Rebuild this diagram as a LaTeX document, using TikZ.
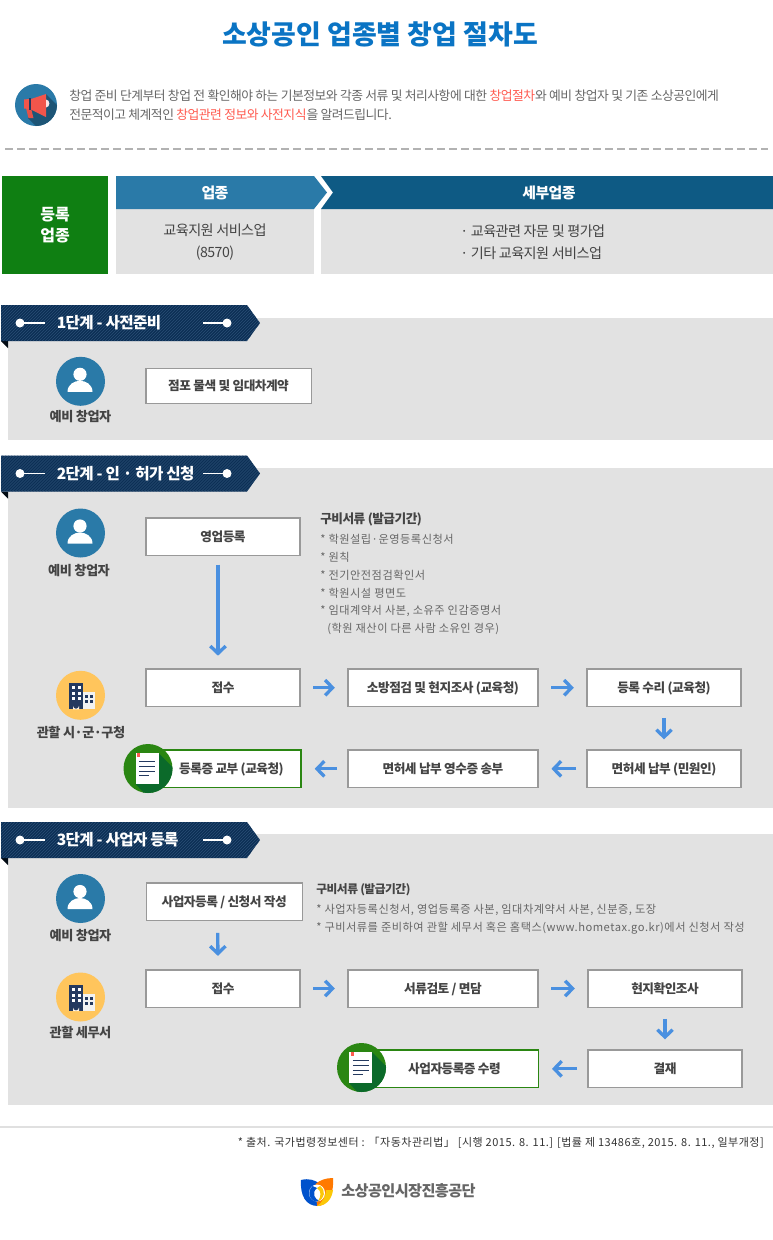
\documentclass[tikz,border=0pt]{standalone}
\usepackage{fontspec}
\setmainfont{Noto Sans CJK KR}
\newfontfamily\tightf[LetterSpace=-4]{Noto Sans CJK KR}
\newfontfamily\widef[LetterSpace=4.5]{Noto Sans CJK KR}
\usetikzlibrary{arrows.meta,calc}
\newcommand\fsz[1]{\fontsize{#1}{#1}\selectfont}
\definecolor{paneg}{HTML}{E2E2E2}
\definecolor{ttl}{HTML}{0A74C4}
\definecolor{blu}{HTML}{2A7AA8}
\definecolor{dkblu}{HTML}{0E5A84}
\definecolor{grn}{HTML}{0F7F12}
\definecolor{navy}{HTML}{0C2F55}
\definecolor{hatchc}{HTML}{2A4E75}
\definecolor{bor}{HTML}{999999}
\definecolor{txt}{HTML}{444444}
\definecolor{lite}{HTML}{666666}
\definecolor{redt}{HTML}{FF5A4F}
\definecolor{arr}{HTML}{4A90E0}
\definecolor{okg}{HTML}{2A8612}
\definecolor{okd}{HTML}{0B6A2A}
\definecolor{yel}{HTML}{FFC55C}
\definecolor{bld}{HTML}{24395F}
\tikzset{
 lbl/.style={inner sep=0pt,text depth=0.12em,text height=0.82em},
 flowbox/.style={lbl,draw=bor,line width=1pt,fill=white,text=txt,font=\tightf\bfseries\fsz{9.5},minimum height=28pt},
 boxa/.style={flowbox,minimum width=115.5pt},
 boxb/.style={flowbox,minimum width=142.5pt},
 boxgo/.style={flowbox,draw=okg,line width=1.1pt},
 actor/.style={lbl,text=txt,font=\tightf\bfseries\fsz{9.9}},
 doc/.style={lbl,anchor=west,text=lite,font=\widef\fsz{8.4}},
 dochead/.style={lbl,anchor=west,text=txt,font=\tightf\bfseries\fsz{9.5}},
 flow/.style={draw=arr,line width=2.5pt,-{Straight Barb[length=5.5pt,width=11.5pt,line width=2.5pt]}},
 gapa/.style={flow,shorten <=9.4pt,shorten >=9.4pt},
 gapb/.style={flow,shorten <=7.6pt,shorten >=9.6pt},
 gapc/.style={flow,shorten <=8.2pt,shorten >=7.6pt},
}
\newcommand\ribbon[3]{%
 \begin{scope}[shift={(0,#1)}]
  \fill[black!75!navy] (1,36)--(8,36)--(8,43)--cycle;
  \fill[navy] (1,0)--(247,0)--(260,18)--(247,36)--(1,36)--cycle;
  \begin{scope}
   \clip (1,0)--(247,0)--(260,18)--(247,36)--(1,36)--cycle;
   \foreach \i in {-36,-33,...,260} \draw[hatchc,line width=0.35pt] (\i,36)--(\i+36,0);
  \end{scope}
  \fill[white] (20,18) circle (4.5);
  \draw[white,line width=1.4pt] (20,18)--(45,18);
  \draw[white,line width=1.4pt] (203,18)--(227,18);
  \fill[white] (227,18) circle (4.5);
  \node[lbl,anchor=west,text=white,font=\tightf\bfseries\fsz{11.7}] (#2) at (56.5,19) {#3};
 \end{scope}}
\newcommand\personicon[2]{%
 \begin{scope}[shift={(#1,#2)}]
  \fill[blu] (0,0) circle (24.5);
  \fill[white] (-0.5,-7) circle (6.6);
  \fill[white] (-13,10.5) .. controls (-13,3) and (-6,-0.5) .. (-0.5,-0.5) .. controls (5,-0.5) and (12,3) .. (12,10.5) -- cycle;
 \end{scope}}
\newcommand\buildicon[2]{%
 \begin{scope}[shift={(#1,#2)}]
  \fill[yel] (0,0) circle (24.5);
  \fill[bld] (-12,-12) rectangle (2.5,14);
  \foreach \r in {-9,-3.5,2} \foreach \c in {-9,-3} \fill[white] (\c,\r) rectangle ++(3,3);
  \fill[white!85!yel] (-7.5,14) -- (-7.5,10.5) arc (180:0:3) -- (-1.5,14) -- cycle;
  \fill[white!95!black] (2.5,-3) rectangle (14.5,13.5);
  \foreach \r in {-0.5,5} \foreach \c in {4.5,9.5} \fill[bld] (\c,\r) rectangle ++(3,3);
 \end{scope}}
\newcommand\docicon[2]{%
 \begin{scope}[shift={(#1,#2)}]
  \fill[okg] (0,0) circle (24.5);
  \begin{scope}
   \clip (0,0) circle (24.5);
   \fill[okd] (10.5,-15.5) -- (32,6) -- (32,32) -- (3,32) -- (-12.5,15.5) -- cycle;
  \end{scope}
  \fill[white] (-12.5,-15.5) rectangle (10.5,15.5);
  \fill[redt] (-11,-15.5) rectangle (-8,-11.5);
  \foreach \yy in {-7.5,-2.5,2.5} \draw[bld,line width=0.7pt] (-8.7,\yy) -- (7,\yy);
  \draw[bld,line width=0.7pt] (-8.7,7.2) -- (1,7.2);
 \end{scope}}
\begin{document}
\begin{tikzpicture}[x=0.75pt,y=-0.75pt]
\useasboundingbox (0,0) rectangle (773,1240);
\fill[white] (0,0) rectangle (773,1240);
% title
\node[lbl,text=ttl,font=\bfseries\fsz{20.2}] (title) at (380,39.6) {소상공인 업종별 창업 절차도};
% megaphone
\fill[blu] (36,105) circle (21);
\begin{scope}
 \clip (36,105) circle (21);
 \fill[blu!70!black] (46,94) -- (70,118) -- (50,140) -- (28,118) -- (31,109) -- (46,117) -- cycle;
\end{scope}
\fill[redt!90!black] (26,108) -- (31,108) -- (33.5,118) -- (28.5,118) -- cycle;
\fill[redt!95!black] (24,99.5) -- (29,99) -- (29,109) -- (24,108.5) -- cycle;
\fill[redt!95!black] (31,99) -- (46,94) -- (46,117) -- (31,109.5) -- cycle;
\fill[bld] (29,98) rectangle (31,110);
\fill[white!90!red] (46,99.5) .. controls (50.5,100) and (50.5,107) .. (46,107.5) -- cycle;
% intro
\node[lbl,anchor=west,text=lite,font=\tightf\fsz{9.6}] (introa) at (69,95.5) {창업 준비 단계부터 창업 전 확인해야 하는 기본정보와 각종 서류 및 처리사항에 대한 \textcolor{redt}{창업절차}와 예비 창업자 및 기존 소상공인에게};
\node[lbl,anchor=west,text=lite,font=\tightf\fsz{9.6}] (introb) at (69,115) {전문적이고 체계적인 \textcolor{redt}{창업관련 정보와 사전지식}을 알려드립니다.};
\draw[black!30,line width=1pt,dash pattern=on 6pt off 3pt] (5,149) -- (768,149);
% registered type
\node[lbl,fill=grn,minimum width=79.5pt,minimum height=73.5pt] (regbox) at (55,225) {};
\node[lbl,text=white,font=\bfseries\fsz{12}] (rega) at (55,215.5) {등록};
\node[lbl,text=white,font=\bfseries\fsz{12}] (regb) at (55,236.5) {업종};
\fill[paneg] (116,209) rectangle (314,274);
\fill[paneg] (321,209) rectangle (773,274);
\fill[dkblu] (321,176) -- (773,176) -- (773,209) -- (321,209) -- (333,192.5) -- cycle;
\fill[blu] (116,176) -- (314,176) -- (327,192.5) -- (314,209) -- (116,209) -- cycle;
\node[lbl,text=white,font=\tightf\bfseries\fsz{11.2}] (h1) at (215,194) {업종};
\node[lbl,text=white,font=\tightf\bfseries\fsz{11.2}] (h2) at (549,194) {세부업종};
\node[lbl,text=txt,font=\tightf\fsz{10.6}] (ta) at (215,231) {교육지원 서비스업};
\node[lbl,text=txt,font=\tightf\fsz{10.6}] (tb) at (215,253) {(8570)};
\node[lbl,anchor=west,text=txt,font=\tightf\fsz{10.6}] (tc) at (460,232) {· 교육관련 자문 및 평가업};
\node[lbl,anchor=west,text=txt,font=\tightf\fsz{10.6}] (td) at (460,254) {· 기타 교육지원 서비스업};
% panels
\fill[paneg] (8,318) rectangle (773,440);
\fill[paneg] (8,468) rectangle (773,808);
\fill[paneg] (8,834) rectangle (773,1105);
% step 1
\ribbon{305}{s1}{1단계 - 사전준비}
\personicon{80.5}{381.3}
\node[actor] (a1) at (80.5,417) {예비 창업자};
\node[flowbox,minimum width=124pt,minimum height=26pt] (b11) at (228.5,386) {점포 물색 및 임대차계약};
% step 2
\ribbon{455.5}{s2}{2단계 - 인 · 허가 신청}
\personicon{80.5}{533}
\node[actor] (a2) at (79,571) {예비 창업자};
\buildicon{80.5}{695.3}
\node[actor] (a3) at (81,733) {관할 시·군·구청};
\node[boxa] (b21) at (223,536.5) {영업등록};
\node[boxa] (b22) at (223,687.7) {접수};
\node[boxb] (b23) at (443,687.7) {소방점검 및 현지조사 (교육청)};
\node[boxa] (b24) at (664,687.7) {등록 수리 (교육청)};
\node[boxa] (b25) at (664,768.8) {면허세 납부 (민원인)};
\node[boxb] (b26) at (443,768.8) {면허세 납부 영수증 송부};
\node[boxgo,minimum width=113.5pt] (b27) at (225.5,768.8) {\hspace*{9pt}등록증 교부 (교육청)};
\docicon{148}{768.5}
\draw[flow,shorten <=6.5pt,shorten >=9.5pt] ([xshift=-3.75pt]b21.south) -- ([xshift=-3.75pt]b22.north);
\draw[gapa] (b22) -- (b23);
\draw[gapa] (b23) -- (b24);
\draw[gapc] (b24) -- (b25);
\draw[gapb] (b25) -- (b26);
\draw[gapb] (b26) -- (b27);
\node[dochead] (d20) at (320,518.5) {구비서류 (발급기간)};
\node[doc] (d21) at (320,539) {* 학원설립·운영등록신청서};
\node[doc] (d22) at (320,556.8) {* 원칙};
\node[doc] (d23) at (320,574.7) {* 전기안전점검확인서};
\node[doc] (d24) at (320,592.5) {* 학원시설 평면도};
\node[doc] (d25) at (320,610.3) {* 임대계약서 사본, 소유주 인감증명서};
\node[doc] (d26) at (327,628) {(학원 재산이 다른 사람 소유인 경우)};
% step 3
\ribbon{822}{s3}{3단계 - 사업자 등록}
\personicon{80.5}{898.5}
\node[actor] (a4) at (80.5,935.5) {예비 창업자};
\buildicon{80.5}{997}
\node[actor] (a5) at (80.5,1032.5) {관할 세무서};
\node[flowbox,minimum width=117pt] (b31) at (224.2,901.5) {사업자등록 / 신청서 작성};
\node[boxa] (b32) at (223,988.5) {접수};
\node[boxb] (b33) at (443,988.5) {서류검토 / 면담};
\node[boxa] (b34) at (665,988.5) {현지확인조사};
\node[boxa] (b35) at (665,1068.8) {결재};
\node[boxgo,minimum width=126pt] (b36) at (454.5,1068.8) {사업자등록증 수령};
\docicon{361.5}{1067.5}
\draw[flow,shorten <=9pt,shorten >=10pt] ([xshift=-4.9pt]b31.south) -- ([xshift=-3.75pt]b32.north);
\draw[gapa] (b32) -- (b33);
\draw[gapa] (b33) -- (b34);
\draw[gapc] (b34) -- (b35);
\draw[gapb] (b35) -- (b36);
\node[dochead,font=\tightf\bfseries\fsz{8.8}] (d30) at (316,889) {구비서류 (발급기간)};
\node[doc] (d31) at (316,909) {* 사업자등록신청서, 영업등록증 사본, 임대차계약서 사본, 신분증, 도장};
\node[doc] (d32) at (316,927) {* 구비서류를 준비하여 관할 세무서 혹은 홈택스(www.hometax.go.kr)에서 신청서 작성};
% footer
\draw[black!12,line width=1.5pt] (0,1127) -- (773,1127);
\node[lbl,anchor=east,text=black!80,font=\widef\fsz{8.25}] (foot) at (764,1142) {* 출처. 국가법령정보센터 : 「자동차관리법」 [시행 2015. 8. 11.] [법률 제 13486호, 2015. 8. 11., 일부개정]};
% logo
\fill[blue!60!cyan!80!black] (301,1180) .. controls (309,1178) and (315,1180) .. (320,1184) -- (318,1206) .. controls (306,1206) and (300,1196) .. (301,1180) -- cycle;
\fill[orange!95!red] (333,1178) .. controls (326,1178) and (320,1180) .. (315.5,1184) -- (317,1206) .. controls (328,1206) and (334,1195) .. (333,1178) -- cycle;
\fill[yellow!60!orange] (333,1190) .. controls (332,1199) and (326,1206) .. (317,1206) .. controls (322,1203) and (326,1196) .. (326,1190) -- cycle;
\fill[white] (317,1193) ellipse (8 and 8.5);
\fill[blue!60!cyan!80!black] (312.5,1186) .. controls (306,1192) and (310,1204) .. (320,1201) .. controls (315,1200) and (311,1193) .. (317,1188) -- cycle;
\fill[yellow!60!orange] (320,1186) .. controls (326,1190) and (325,1199) .. (318,1201) .. controls (321,1197) and (322,1191) .. (317,1188) -- cycle;
\node[lbl,anchor=west,text=lite,font=\tightf\bfseries\fsz{11.4}] (logot) at (341,1192) {소상공인시장진흥공단};
\end{tikzpicture}
\end{document}
